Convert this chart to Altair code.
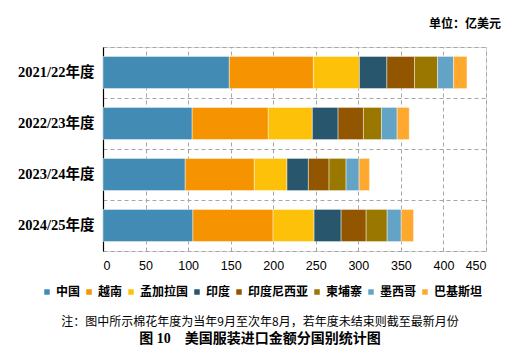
import altair as alt
import pandas as pd

years = ["2021/22年度", "2022/23年度", "2023/24年度", "2024/25年度"]
countries = ["中国", "越南", "孟加拉国", "印度", "印度尼西亚", "柬埔寨", "墨西哥", "巴基斯坦"]
colors = ["#428BB5", "#F59300", "#FDC10A", "#27566D", "#925600", "#9A7800", "#62A3C6", "#FFA82E"]

v_2122 = [148.4, 98.8, 54.1, 32.2, 32.5, 27.1, 18.8, 15.7]
v_2223 = [104.8, 89.4, 51.8, 30.2, 29.8, 21.2, 18.4, 14.2]
v_2324 = [96.6, 81.2, 38.4, 25.1, 24.3, 20.0, 15.3, 12.2]
v_2425 = [105.6, 94.2, 48.2, 31.8, 29.4, 24.7, 16.5, 14.4]
series = [v_2122, v_2223, v_2324, v_2425]

rows = []
for y, vals in zip(years, series):
    for i, (c, v) in enumerate(zip(countries, vals)):
        rows.append({"year": y, "country": c, "value": v, "idx": i})
df = pd.DataFrame(rows)

W, H = 383, 204
STEP = H / 4

bars = alt.Chart(df).mark_bar(stroke="#ffffff", strokeWidth=0.6, strokeOpacity=0.7).encode(
    x=alt.X("value:Q", stack="zero",
            scale=alt.Scale(domain=[0, 450], nice=False),
            axis=alt.Axis(values=list(range(0, 451, 50)), title=None, grid=True,
                          gridDash=[4, 3], gridColor="#a6a6a6", gridWidth=1,
                          domainColor="#a6a6a6", domainDash=[4, 3], ticks=False,
                          labelFont="Liberation Sans", labelFontSize=12.5,
                          labelColor="#000000", labelPadding=8)),
    y=alt.Y("year:N", sort=years,
            scale=alt.Scale(paddingInner=0.37, paddingOuter=0.185),
            axis=alt.Axis(title=None, grid=True, gridDash=[4, 3], gridColor="#a6a6a6",
                          tickOffset=-STEP / 2, labelOffset=STEP / 2, ticks=False,
                          domainColor="#000000", domainWidth=1.2,
                          labelFont="Liberation Serif, Noto Sans CJK SC", labelFontWeight="bold",
                          labelFontSize=14.5, labelColor="#000000", labelPadding=9)),
    color=alt.Color("country:N", sort=countries,
                    scale=alt.Scale(domain=countries, range=colors),
                    legend=alt.Legend(title=None, orient="none", direction="horizontal",
                                      legendX=-62, legendY=239, symbolType="square",
                                      symbolSize=30, symbolStrokeWidth=0,
                                      labelFont="Noto Sans CJK SC", labelFontWeight="bold",
                                      labelFontSize=12, labelColor="#000000",
                                      columnPadding=2, labelOffset=3, padding=0)),
    order=alt.Order("idx:Q"),
)

texts = pd.DataFrame({
    "t": ["单位：亿美元",
          "注：图中所示棉花年度为当年9月至次年8月，若年度未结束则截至最新月份",
          "图 10　美国服装进口金额分国别统计图"],
    "k": ["unit", "note", "cap"],
})

unit = alt.Chart(texts[texts.k == "unit"]).mark_text(
    font="Noto Sans CJK SC", fontWeight="bold", fontSize=12, align="right", baseline="middle",
    color="#000000").encode(text="t:N", x=alt.value(398), y=alt.value(-23))
note = alt.Chart(texts[texts.k == "note"]).mark_text(
    font="Noto Sans CJK SC", fontSize=12, align="center", baseline="middle",
    color="#000000").encode(text="t:N", x=alt.value(157), y=alt.value(275))
cap = alt.Chart(texts[texts.k == "cap"]).mark_text(
    font="Liberation Serif, Noto Sans CJK SC", fontWeight="bold", fontSize=14, align="center",
    baseline="middle", color="#000000").encode(text="t:N", x=alt.value(157), y=alt.value(292))

chart = alt.layer(bars, unit, note, cap).properties(
    width=W, height=H,
    autosize=alt.AutoSizeParams(type="none"),
    padding={"left": 103, "top": 47, "right": 42, "bottom": 102},
).configure_view(stroke=None).configure(background="#ffffff")

chart.save("out.html", embed_options={"renderer": "svg", "actions": False})
